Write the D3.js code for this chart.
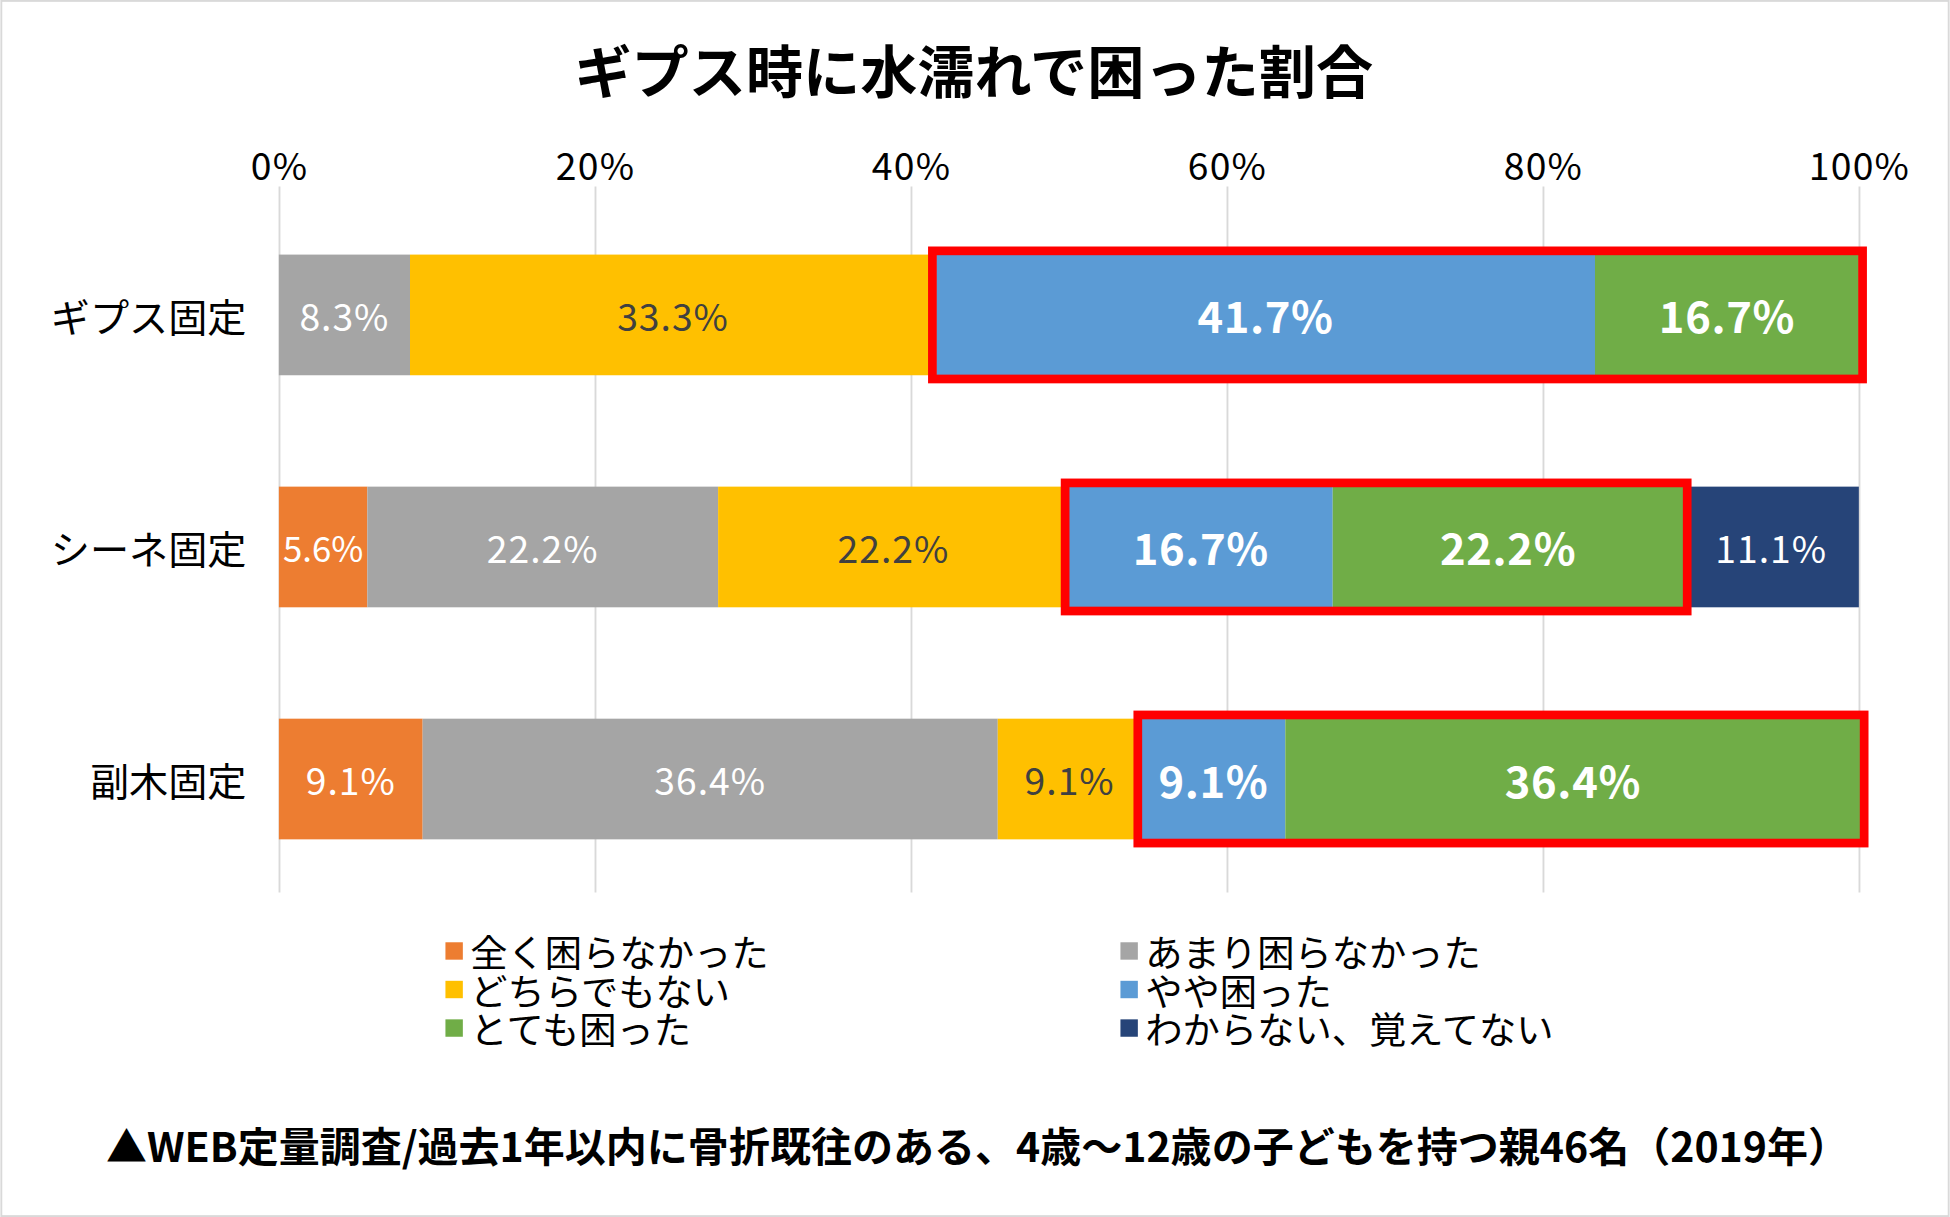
<!DOCTYPE html>
<html>
<head>
<meta charset="utf-8">
<script src="https://cdn.jsdelivr.net/npm/d3@7"></script>
<style>
  html, body { margin: 0; padding: 0; background: #fff; }
  svg { display: block; }
  text { font-family: "Noto Sans CJK JP", "Noto Sans", sans-serif; }
</style>
</head>
<body>
<div id="chart"></div>
<script>
// data
const title = "ギプス時に水濡れで困った割合";
const footnote = "▲WEB定量調査/過去1年以内に骨折既往のある、4歳～12歳の子どもを持つ親46名（2019年）";
const categories = ["ギプス固定", "シーネ固定", "副木固定"];
const seriesNames = ["全く困らなかった", "あまり困らなかった", "どちらでもない", "やや困った", "とても困った", "わからない、覚えてない"];
const seriesColors = ["#ED7D31", "#A5A5A5", "#FFC000", "#5B9BD5", "#70AD47", "#264478"];
const valuesGips  = [0, 8.3, 33.3, 41.7, 16.7, 0];
const valuesShine = [5.6, 22.2, 22.2, 16.7, 22.2, 11.1];
const valuesFuku  = [9.1, 36.4, 9.1, 9.1, 36.4, 0];
const xTicks = [0, 20, 40, 60, 80, 100];
// series that get the red highlight box
const highlighted = ["やや困った", "とても困った"];

const W = 1568, H = 979;
const svg = d3.select("#chart").append("svg")
    .attr("width", 1950).attr("height", 1217)
    .attr("viewBox", `0 0 ${W} ${H}`);

svg.append("rect").attr("x", 0.75).attr("y", 0.75).attr("width", W - 1.5).attr("height", H - 1.5)
    .attr("fill", "#fff").attr("stroke", "#d9d9d9").attr("stroke-width", 1.5);

svg.append("text").attr("x", 783).attr("y", 55)
    .attr("text-anchor", "middle").attr("dominant-baseline", "central")
    .attr("font-size", 46).attr("font-weight", 700).attr("fill", "#000")
    .text(title);

const rows = [valuesGips, valuesShine, valuesFuku];
const data = categories.map((c, i) => {
    const o = { cat: c };
    seriesNames.forEach((s, j) => o[s] = rows[i][j]);
    return o;
});
const stacked = d3.stack().keys(seriesNames)(data);

const x = d3.scaleLinear().domain([0, 100]).range([224, 1495]);
const y = d3.scaleBand().domain(categories).range([160, 720]).paddingInner(0.48).paddingOuter(0.24);
const color = d3.scaleOrdinal().domain(seriesNames).range(seriesColors);

// gridlines + top tick labels
const ax = svg.append("g").attr("transform", "translate(0,150)")
    .call(d3.axisTop(x).tickValues(xTicks).tickSize(-568).tickPadding(0).tickFormat(d => d + "%"));
ax.select(".domain").remove();
ax.selectAll("line").attr("stroke", "#d9d9d9").attr("stroke-width", 1.5);
ax.selectAll("text").attr("y", -18).attr("dy", null).attr("dominant-baseline", "central")
    .attr("font-size", 30).attr("letter-spacing", 1).attr("fill", "#000")
    .attr("font-family", "\"Noto Sans CJK JP\", sans-serif");

// category labels
svg.append("g").selectAll("text").data(categories).join("text")
    .attr("x", 198).attr("y", d => y(d) + y.bandwidth() / 2)
    .attr("text-anchor", "end").attr("dominant-baseline", "central")
    .attr("font-size", 31.5).attr("fill", "#000")
    .text(d => d);

// bars
const layer = svg.append("g").selectAll("g").data(stacked).join("g")
    .attr("fill", d => color(d.key));
layer.selectAll("rect").data(d => d.filter(p => p[1] > p[0])).join("rect")
    .attr("x", d => x(d[0])).attr("width", d => x(d[1]) - x(d[0]))
    .attr("y", d => y(d.data.cat)).attr("height", y.bandwidth());

// value labels
const labelG = svg.append("g");
stacked.forEach(s => {
    const bold = highlighted.includes(s.key);
    const dark = s.key === "どちらでもない";
    s.filter(p => p[1] > p[0]).forEach(p => {
        const w = x(p[1]) - x(p[0]);
        labelG.append("text")
            .attr("x", (x(p[0]) + x(p[1])) / 2)
            .attr("y", y(p.data.cat) + y.bandwidth() / 2)
            .attr("text-anchor", "middle").attr("dominant-baseline", "central")
            .attr("font-size", bold ? 35 : (w < 80 ? 28 : 30)).attr("font-weight", bold ? 700 : 400)
            .attr("letter-spacing", bold ? 0.5 : (w < 80 ? 0 : 0.8))
            .attr("fill", dark ? "#404040" : "#fff")
            .text(d3.format(".1f")(p[1] - p[0]) + "%");
    });
});

// red highlight boxes around やや困った + とても困った
const hiStart = stacked.find(s => s.key === highlighted[0]);
const hiEnd = stacked.find(s => s.key === highlighted[highlighted.length - 1]);
const pad = 3;
svg.append("g").selectAll("rect").data(categories).join("rect")
    .attr("x", (d, i) => x(hiStart[i][0]) - pad)
    .attr("width", (d, i) => x(hiEnd[i][1]) - x(hiStart[i][0]) + 2 * pad)
    .attr("y", d => y(d) - pad).attr("height", y.bandwidth() + 2 * pad)
    .attr("fill", "none").attr("stroke", "#FF0000").attr("stroke-width", 7);

// legend (2 columns, 3 rows)
const legend = svg.append("g");
seriesNames.forEach((s, i) => {
    const col = i % 2, row = Math.floor(i / 2);
    const lx = col === 0 ? 358 : 901;
    const ly = 765 + row * 31;
    legend.append("rect").attr("x", lx).attr("y", ly - 7).attr("width", 14).attr("height", 14)
        .attr("fill", seriesColors[i]);
    legend.append("text").attr("x", lx + 20).attr("y", ly)
        .attr("dominant-baseline", "central").attr("font-size", 30).attr("fill", "#000")
        .text(s);
});

svg.append("text").attr("x", 786).attr("y", 920)
    .attr("text-anchor", "middle").attr("dominant-baseline", "central")
    .attr("font-size", 33).attr("font-weight", 700).attr("fill", "#000")
    .text(footnote);
</script>
</body>
</html>
